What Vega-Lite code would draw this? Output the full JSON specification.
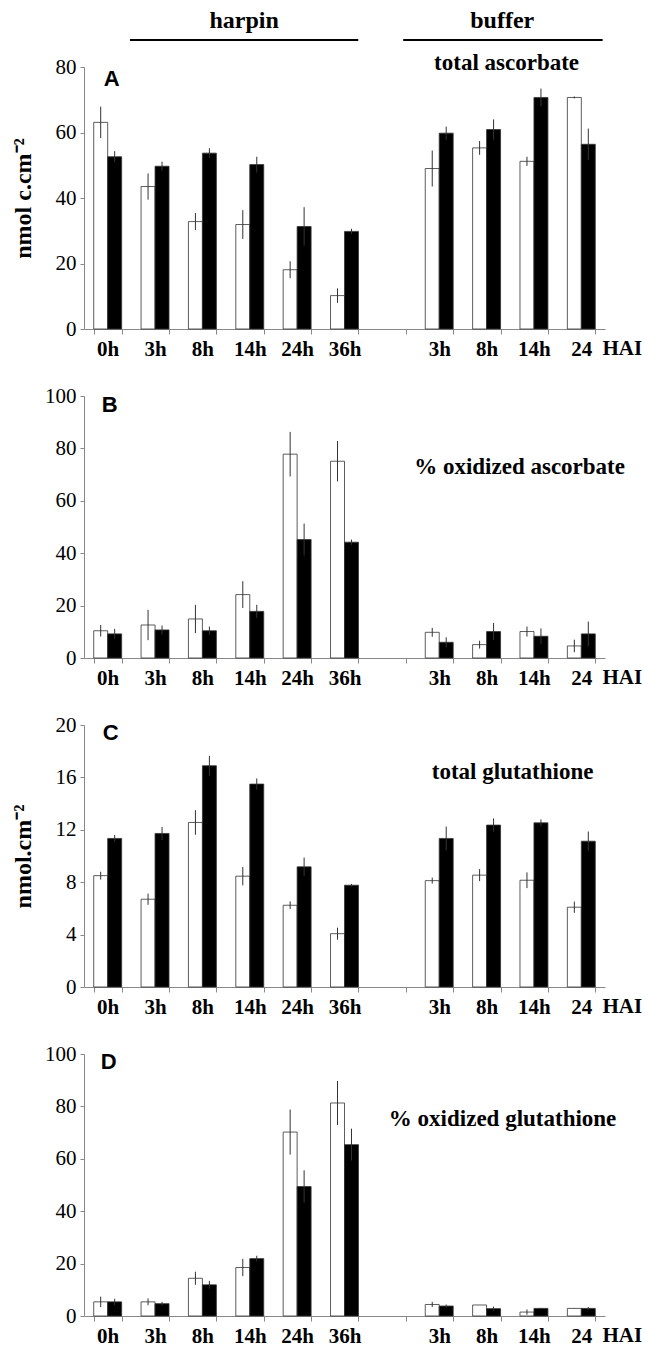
{
"$schema": "https://vega.github.io/schema/vega-lite/v6.json",
"padding": {"left": 11, "top": 5, "right": 2, "bottom": 2},
"background": "white",
"config": {"view": {"stroke": null}},
"spacing": 7,
"resolve": {"scale": {"xOffset": "independent", "color": "independent"}},
"vconcat": [
{
"width": 521, "height": 40,
"layer": [
{"data":{"values":[{"x":0.97,"x2":5.79,"y":5},{"x":6.74,"x2":10.95,"y":5}]},
 "mark":{"type":"rule","color":"black","strokeWidth":2},
 "encoding":{"x":{"field":"x","type":"quantitative","scale":{"domain":[0,11],"nice":false,"zero":false},"axis":null},"x2":{"field":"x2"},"y":{"field":"y","type":"quantitative","scale":{"domain":[0,40],"nice":false},"axis":null}}},
{"data":{"values":[{"x":3.38,"y":24,"t":"harpin"},{"x":8.83,"y":24,"t":"buffer"}]},
 "mark":{"type":"text","font":"Liberation Serif","fontWeight":"bold","fontSize":24,"align":"center","baseline":"middle","color":"black"},
 "encoding":{"x":{"field":"x","type":"quantitative"},"y":{"field":"y","type":"quantitative"},"text":{"field":"t"}}}
]
},
{
"spacing": 26,
"resolve": {"scale": {"xOffset": "independent", "color": "independent"}},
"vconcat": [
{
"width": 521, "height": 262,
"data": {"values": [
{"c":"0h","g":"w","v":63.1,"lo":58.3,"hi":67.9},{"c":"0h","g":"b","v":52.6,"lo":50.9,"hi":54.3},
{"c":"3h","g":"w","v":43.5,"lo":39.5,"hi":47.5},{"c":"3h","g":"b","v":49.7,"lo":48.3,"hi":51.1},
{"c":"8h","g":"w","v":32.8,"lo":30.2,"hi":35.4},{"c":"8h","g":"b","v":53.7,"lo":52.2,"hi":55.2},
{"c":"14h","g":"w","v":31.9,"lo":27.5,"hi":36.3},{"c":"14h","g":"b","v":50.2,"lo":47.8,"hi":52.6},
{"c":"24h","g":"w","v":18.1,"lo":15.5,"hi":20.7},{"c":"24h","g":"b","v":31.3,"lo":25.4,"hi":37.2},
{"c":"36h","g":"w","v":10.2,"lo":8.0,"hi":12.4},{"c":"36h","g":"b","v":29.8,"lo":29.0,"hi":30.6},
{"c":"\u00a03h\u00a0","g":"w","v":49.0,"lo":43.5,"hi":54.5},{"c":"\u00a03h\u00a0","g":"b","v":59.8,"lo":57.8,"hi":61.8},
{"c":"\u00a08h\u00a0","g":"w","v":55.3,"lo":53.2,"hi":57.4},{"c":"\u00a08h\u00a0","g":"b","v":60.9,"lo":57.8,"hi":64.0},
{"c":"\u00a014h\u00a0","g":"w","v":51.2,"lo":49.8,"hi":52.6},{"c":"\u00a014h\u00a0","g":"b","v":70.7,"lo":68.0,"hi":73.4},
{"c":"24","g":"w","v":70.7,"lo":70.4,"hi":71.0},{"c":"24","g":"b","v":56.4,"lo":51.6,"hi":61.2}
]},
"layer": [
{"mark":{"type":"bar","stroke":"#333","strokeWidth":0.8},
 "encoding":{
  "x":{"field":"c","type":"nominal","title":null,"sort":null,"scale":{"domain":["0h","3h","8h","14h","24h","36h"," ","\u00a03h\u00a0","\u00a08h\u00a0","\u00a014h\u00a0","24"],"paddingInner":0.41,"paddingOuter":0.205},
   "axis":{"labelAngle":0,"tickBand":"extent","tickSize":5,"tickColor":"#888","domainColor":"#888","labelFont":"Liberation Serif","labelFontWeight":"bold","labelFontSize":21,"labelColor":"black","labelPadding":4}},
  "xOffset":{"field":"g","type":"nominal","sort":null,"scale":{"domain":["w","b"]}},
  "y":{"field":"v","type":"quantitative","title":"nmol c.cm\u207b\u00b2","scale":{"domain":[0,80],"nice":false},
   "axis":{"values":[0,20,40,60,80],"grid":false,"tickSize":4,"tickColor":"#888","domainColor":"#888","labelFont":"Liberation Serif","labelFontSize":21,"labelColor":"black","labelPadding":4,"titleFont":"Liberation Serif","titleFontWeight":"bold","titleFontSize":24,"titleColor":"black","titlePadding":20}},
  "color":{"field":"g","type":"nominal","scale":{"domain":["w","b"],"range":["white","black"]},"legend":null}}},
{"mark":{"type":"rule","color":"#333","strokeWidth":1},
 "encoding":{"x":{"field":"c","type":"nominal","sort":null},"xOffset":{"field":"g","type":"nominal","sort":null},"y":{"field":"lo","type":"quantitative"},"y2":{"field":"hi"}}},
{"data":{"values":[{"c":"0h","y":76.3,"t":"A"}]},
 "mark":{"type":"text","font":"Liberation Sans","fontWeight":"bold","fontSize":22,"align":"center","baseline":"middle","color":"black","dx":4},
 "encoding":{"x":{"field":"c","type":"nominal","sort":null},"y":{"field":"y","type":"quantitative"},"text":{"field":"t"}}},
{"data":{"values":[{"c":"\u00a08h\u00a0","y":81.2,"t":"total  ascorbate"}]},
 "mark":{"type":"text","font":"Liberation Serif","fontWeight":"bold","fontSize":23,"align":"center","baseline":"middle","color":"black","dx":20},
 "encoding":{"x":{"field":"c","type":"nominal","sort":null},"y":{"field":"y","type":"quantitative"},"text":{"field":"t"}}},
{"data":{"values":[{"c":"24","y":0,"t":"HAI"}]},
 "mark":{"type":"text","font":"Liberation Serif","fontWeight":"bold","fontSize":21,"align":"center","baseline":"middle","color":"black","dx":41,"dy":20},
 "encoding":{"x":{"field":"c","type":"nominal","sort":null},"y":{"field":"y","type":"quantitative"},"text":{"field":"t"}}}
]
},
{
"width": 521, "height": 262,
"data": {"values": [
{"c":"0h","g":"w","v":10.4,"lo":8.2,"hi":12.6},{"c":"0h","g":"b","v":9.2,"lo":7.3,"hi":11.1},
{"c":"3h","g":"w","v":12.6,"lo":6.8,"hi":18.4},{"c":"3h","g":"b","v":10.7,"lo":9.0,"hi":12.4},
{"c":"8h","g":"w","v":14.9,"lo":9.5,"hi":20.3},{"c":"8h","g":"b","v":10.4,"lo":8.8,"hi":12.0},
{"c":"14h","g":"w","v":24.2,"lo":19.1,"hi":29.3},{"c":"14h","g":"b","v":17.8,"lo":15.3,"hi":20.3},
{"c":"24h","g":"w","v":77.8,"lo":69.3,"hi":86.3},{"c":"24h","g":"b","v":45.2,"lo":39.1,"hi":51.3},
{"c":"36h","g":"w","v":75.1,"lo":67.4,"hi":82.8},{"c":"36h","g":"b","v":44.2,"lo":43.2,"hi":45.2},
{"c":"\u00a03h\u00a0","g":"w","v":9.8,"lo":8.1,"hi":11.5},{"c":"\u00a03h\u00a0","g":"b","v":6.0,"lo":4.1,"hi":7.9},
{"c":"\u00a08h\u00a0","g":"w","v":5.1,"lo":3.6,"hi":6.6},{"c":"\u00a08h\u00a0","g":"b","v":10.1,"lo":6.8,"hi":13.4},
{"c":"\u00a014h\u00a0","g":"w","v":10.1,"lo":8.2,"hi":12.0},{"c":"\u00a014h\u00a0","g":"b","v":8.3,"lo":5.3,"hi":11.3},
{"c":"24","g":"w","v":4.6,"lo":2.2,"hi":7.0},{"c":"24","g":"b","v":9.2,"lo":4.5,"hi":13.9}
]},
"layer": [
{"mark":{"type":"bar","stroke":"#333","strokeWidth":0.8},
 "encoding":{
  "x":{"field":"c","type":"nominal","title":null,"sort":null,"scale":{"domain":["0h","3h","8h","14h","24h","36h"," ","\u00a03h\u00a0","\u00a08h\u00a0","\u00a014h\u00a0","24"],"paddingInner":0.41,"paddingOuter":0.205},
   "axis":{"labelAngle":0,"tickBand":"extent","tickSize":5,"tickColor":"#888","domainColor":"#888","labelFont":"Liberation Serif","labelFontWeight":"bold","labelFontSize":21,"labelColor":"black","labelPadding":4}},
  "xOffset":{"field":"g","type":"nominal","sort":null,"scale":{"domain":["w","b"]}},
  "y":{"field":"v","type":"quantitative","title":null,"scale":{"domain":[0,100],"nice":false},
   "axis":{"values":[0,20,40,60,80,100],"grid":false,"tickSize":4,"tickColor":"#888","domainColor":"#888","labelFont":"Liberation Serif","labelFontSize":21,"labelColor":"black","labelPadding":4}},
  "color":{"field":"g","type":"nominal","scale":{"domain":["w","b"],"range":["white","black"]},"legend":null}}},
{"mark":{"type":"rule","color":"#333","strokeWidth":1},
 "encoding":{"x":{"field":"c","type":"nominal","sort":null},"xOffset":{"field":"g","type":"nominal","sort":null},"y":{"field":"lo","type":"quantitative"},"y2":{"field":"hi"}}},
{"data":{"values":[{"c":"0h","y":96.5,"t":"B"}]},
 "mark":{"type":"text","font":"Liberation Sans","fontWeight":"bold","fontSize":22,"align":"center","baseline":"middle","color":"black","dx":2},
 "encoding":{"x":{"field":"c","type":"nominal","sort":null},"y":{"field":"y","type":"quantitative"},"text":{"field":"t"}}},
{"data":{"values":[{"c":"\u00a08h\u00a0","y":73,"t":"% oxidized ascorbate"}]},
 "mark":{"type":"text","font":"Liberation Serif","fontWeight":"bold","fontSize":23,"align":"center","baseline":"middle","color":"black","dx":33},
 "encoding":{"x":{"field":"c","type":"nominal","sort":null},"y":{"field":"y","type":"quantitative"},"text":{"field":"t"}}},
{"data":{"values":[{"c":"24","y":0,"t":"HAI"}]},
 "mark":{"type":"text","font":"Liberation Serif","fontWeight":"bold","fontSize":21,"align":"center","baseline":"middle","color":"black","dx":41,"dy":20},
 "encoding":{"x":{"field":"c","type":"nominal","sort":null},"y":{"field":"y","type":"quantitative"},"text":{"field":"t"}}}
]
},
{
"width": 521, "height": 262,
"data": {"values": [
{"c":"0h","g":"w","v":8.5,"lo":8.2,"hi":8.8},{"c":"0h","g":"b","v":11.34,"lo":11.08,"hi":11.6},
{"c":"3h","g":"w","v":6.7,"lo":6.27,"hi":7.13},{"c":"3h","g":"b","v":11.72,"lo":11.22,"hi":12.22},
{"c":"8h","g":"w","v":12.56,"lo":11.62,"hi":13.5},{"c":"8h","g":"b","v":16.89,"lo":16.13,"hi":17.65},
{"c":"14h","g":"w","v":8.46,"lo":7.76,"hi":9.16},{"c":"14h","g":"b","v":15.49,"lo":15.06,"hi":15.92},
{"c":"24h","g":"w","v":6.24,"lo":5.94,"hi":6.54},{"c":"24h","g":"b","v":9.17,"lo":8.46,"hi":9.88},
{"c":"36h","g":"w","v":4.07,"lo":3.61,"hi":4.53},{"c":"36h","g":"b","v":7.77,"lo":7.67,"hi":7.87},
{"c":"\u00a03h\u00a0","g":"w","v":8.12,"lo":7.89,"hi":8.35},{"c":"\u00a03h\u00a0","g":"b","v":11.34,"lo":10.43,"hi":12.25},
{"c":"\u00a08h\u00a0","g":"w","v":8.54,"lo":8.08,"hi":9.0},{"c":"\u00a08h\u00a0","g":"b","v":12.36,"lo":11.85,"hi":12.87},
{"c":"\u00a014h\u00a0","g":"w","v":8.15,"lo":7.55,"hi":8.75},{"c":"\u00a014h\u00a0","g":"b","v":12.53,"lo":12.27,"hi":12.79},
{"c":"24","g":"w","v":6.09,"lo":5.66,"hi":6.52},{"c":"24","g":"b","v":11.13,"lo":10.39,"hi":11.87}
]},
"layer": [
{"mark":{"type":"bar","stroke":"#333","strokeWidth":0.8},
 "encoding":{
  "x":{"field":"c","type":"nominal","title":null,"sort":null,"scale":{"domain":["0h","3h","8h","14h","24h","36h"," ","\u00a03h\u00a0","\u00a08h\u00a0","\u00a014h\u00a0","24"],"paddingInner":0.41,"paddingOuter":0.205},
   "axis":{"labelAngle":0,"tickBand":"extent","tickSize":5,"tickColor":"#888","domainColor":"#888","labelFont":"Liberation Serif","labelFontWeight":"bold","labelFontSize":21,"labelColor":"black","labelPadding":4}},
  "xOffset":{"field":"g","type":"nominal","sort":null,"scale":{"domain":["w","b"]}},
  "y":{"field":"v","type":"quantitative","title":"nmol.cm\u207b\u00b2","scale":{"domain":[0,20],"nice":false},
   "axis":{"values":[0,4,8,12,16,20],"grid":false,"tickSize":4,"tickColor":"#888","domainColor":"#888","labelFont":"Liberation Serif","labelFontSize":21,"labelColor":"black","labelPadding":4,"titleFont":"Liberation Serif","titleFontWeight":"bold","titleFontSize":24,"titleColor":"black","titlePadding":20}},
  "color":{"field":"g","type":"nominal","scale":{"domain":["w","b"],"range":["white","black"]},"legend":null}}},
{"mark":{"type":"rule","color":"#333","strokeWidth":1},
 "encoding":{"x":{"field":"c","type":"nominal","sort":null},"xOffset":{"field":"g","type":"nominal","sort":null},"y":{"field":"lo","type":"quantitative"},"y2":{"field":"hi"}}},
{"data":{"values":[{"c":"0h","y":19.36,"t":"C"}]},
 "mark":{"type":"text","font":"Liberation Sans","fontWeight":"bold","fontSize":22,"align":"center","baseline":"middle","color":"black","dx":3},
 "encoding":{"x":{"field":"c","type":"nominal","sort":null},"y":{"field":"y","type":"quantitative"},"text":{"field":"t"}}},
{"data":{"values":[{"c":"\u00a08h\u00a0","y":16.4,"t":"total  glutathione"}]},
 "mark":{"type":"text","font":"Liberation Serif","fontWeight":"bold","fontSize":23,"align":"center","baseline":"middle","color":"black","dx":26},
 "encoding":{"x":{"field":"c","type":"nominal","sort":null},"y":{"field":"y","type":"quantitative"},"text":{"field":"t"}}},
{"data":{"values":[{"c":"24","y":0,"t":"HAI"}]},
 "mark":{"type":"text","font":"Liberation Serif","fontWeight":"bold","fontSize":21,"align":"center","baseline":"middle","color":"black","dx":41,"dy":20},
 "encoding":{"x":{"field":"c","type":"nominal","sort":null},"y":{"field":"y","type":"quantitative"},"text":{"field":"t"}}}
]
},
{
"width": 521, "height": 262,
"data": {"values": [
{"c":"0h","g":"w","v":5.4,"lo":3.4,"hi":7.4},{"c":"0h","g":"b","v":5.4,"lo":4.2,"hi":6.6},
{"c":"3h","g":"w","v":5.4,"lo":4.1,"hi":6.7},{"c":"3h","g":"b","v":4.7,"lo":4.0,"hi":5.4},
{"c":"8h","g":"w","v":14.4,"lo":11.9,"hi":16.9},{"c":"8h","g":"b","v":11.9,"lo":10.4,"hi":13.4},
{"c":"14h","g":"w","v":18.5,"lo":15.2,"hi":21.8},{"c":"14h","g":"b","v":21.9,"lo":20.8,"hi":23.0},
{"c":"24h","g":"w","v":70.2,"lo":61.6,"hi":78.8},{"c":"24h","g":"b","v":49.4,"lo":43.2,"hi":55.6},
{"c":"36h","g":"w","v":81.3,"lo":72.9,"hi":89.7},{"c":"36h","g":"b","v":65.4,"lo":59.3,"hi":71.5},
{"c":"\u00a03h\u00a0","g":"w","v":4.4,"lo":3.4,"hi":5.4},{"c":"\u00a03h\u00a0","g":"b","v":3.8,"lo":3.2,"hi":4.4},
{"c":"\u00a08h\u00a0","g":"w","v":4.2,"lo":4.2,"hi":4.2},{"c":"\u00a08h\u00a0","g":"b","v":2.8,"lo":2.0,"hi":3.6},
{"c":"\u00a014h\u00a0","g":"w","v":1.5,"lo":0.5,"hi":2.5},{"c":"\u00a014h\u00a0","g":"b","v":2.9,"lo":2.7,"hi":3.1},
{"c":"24","g":"w","v":2.9,"lo":2.8,"hi":3.0},{"c":"24","g":"b","v":2.9,"lo":2.4,"hi":3.4}
]},
"layer": [
{"mark":{"type":"bar","stroke":"#333","strokeWidth":0.8},
 "encoding":{
  "x":{"field":"c","type":"nominal","title":null,"sort":null,"scale":{"domain":["0h","3h","8h","14h","24h","36h"," ","\u00a03h\u00a0","\u00a08h\u00a0","\u00a014h\u00a0","24"],"paddingInner":0.41,"paddingOuter":0.205},
   "axis":{"labelAngle":0,"tickBand":"extent","tickSize":5,"tickColor":"#888","domainColor":"#888","labelFont":"Liberation Serif","labelFontWeight":"bold","labelFontSize":21,"labelColor":"black","labelPadding":4}},
  "xOffset":{"field":"g","type":"nominal","sort":null,"scale":{"domain":["w","b"]}},
  "y":{"field":"v","type":"quantitative","title":null,"scale":{"domain":[0,100],"nice":false},
   "axis":{"values":[0,20,40,60,80,100],"grid":false,"tickSize":4,"tickColor":"#888","domainColor":"#888","labelFont":"Liberation Serif","labelFontSize":21,"labelColor":"black","labelPadding":4}},
  "color":{"field":"g","type":"nominal","scale":{"domain":["w","b"],"range":["white","black"]},"legend":null}}},
{"mark":{"type":"rule","color":"#333","strokeWidth":1},
 "encoding":{"x":{"field":"c","type":"nominal","sort":null},"xOffset":{"field":"g","type":"nominal","sort":null},"y":{"field":"lo","type":"quantitative"},"y2":{"field":"hi"}}},
{"data":{"values":[{"c":"0h","y":96.9,"t":"D"}]},
 "mark":{"type":"text","font":"Liberation Sans","fontWeight":"bold","fontSize":22,"align":"center","baseline":"middle","color":"black","dx":1},
 "encoding":{"x":{"field":"c","type":"nominal","sort":null},"y":{"field":"y","type":"quantitative"},"text":{"field":"t"}}},
{"data":{"values":[{"c":"\u00a08h\u00a0","y":75.3,"t":"% oxidized glutathione"}]},
 "mark":{"type":"text","font":"Liberation Serif","fontWeight":"bold","fontSize":23,"align":"center","baseline":"middle","color":"black","dx":16},
 "encoding":{"x":{"field":"c","type":"nominal","sort":null},"y":{"field":"y","type":"quantitative"},"text":{"field":"t"}}},
{"data":{"values":[{"c":"24","y":0,"t":"HAI"}]},
 "mark":{"type":"text","font":"Liberation Serif","fontWeight":"bold","fontSize":21,"align":"center","baseline":"middle","color":"black","dx":41,"dy":20},
 "encoding":{"x":{"field":"c","type":"nominal","sort":null},"y":{"field":"y","type":"quantitative"},"text":{"field":"t"}}}
]
}
]
}
]
}
